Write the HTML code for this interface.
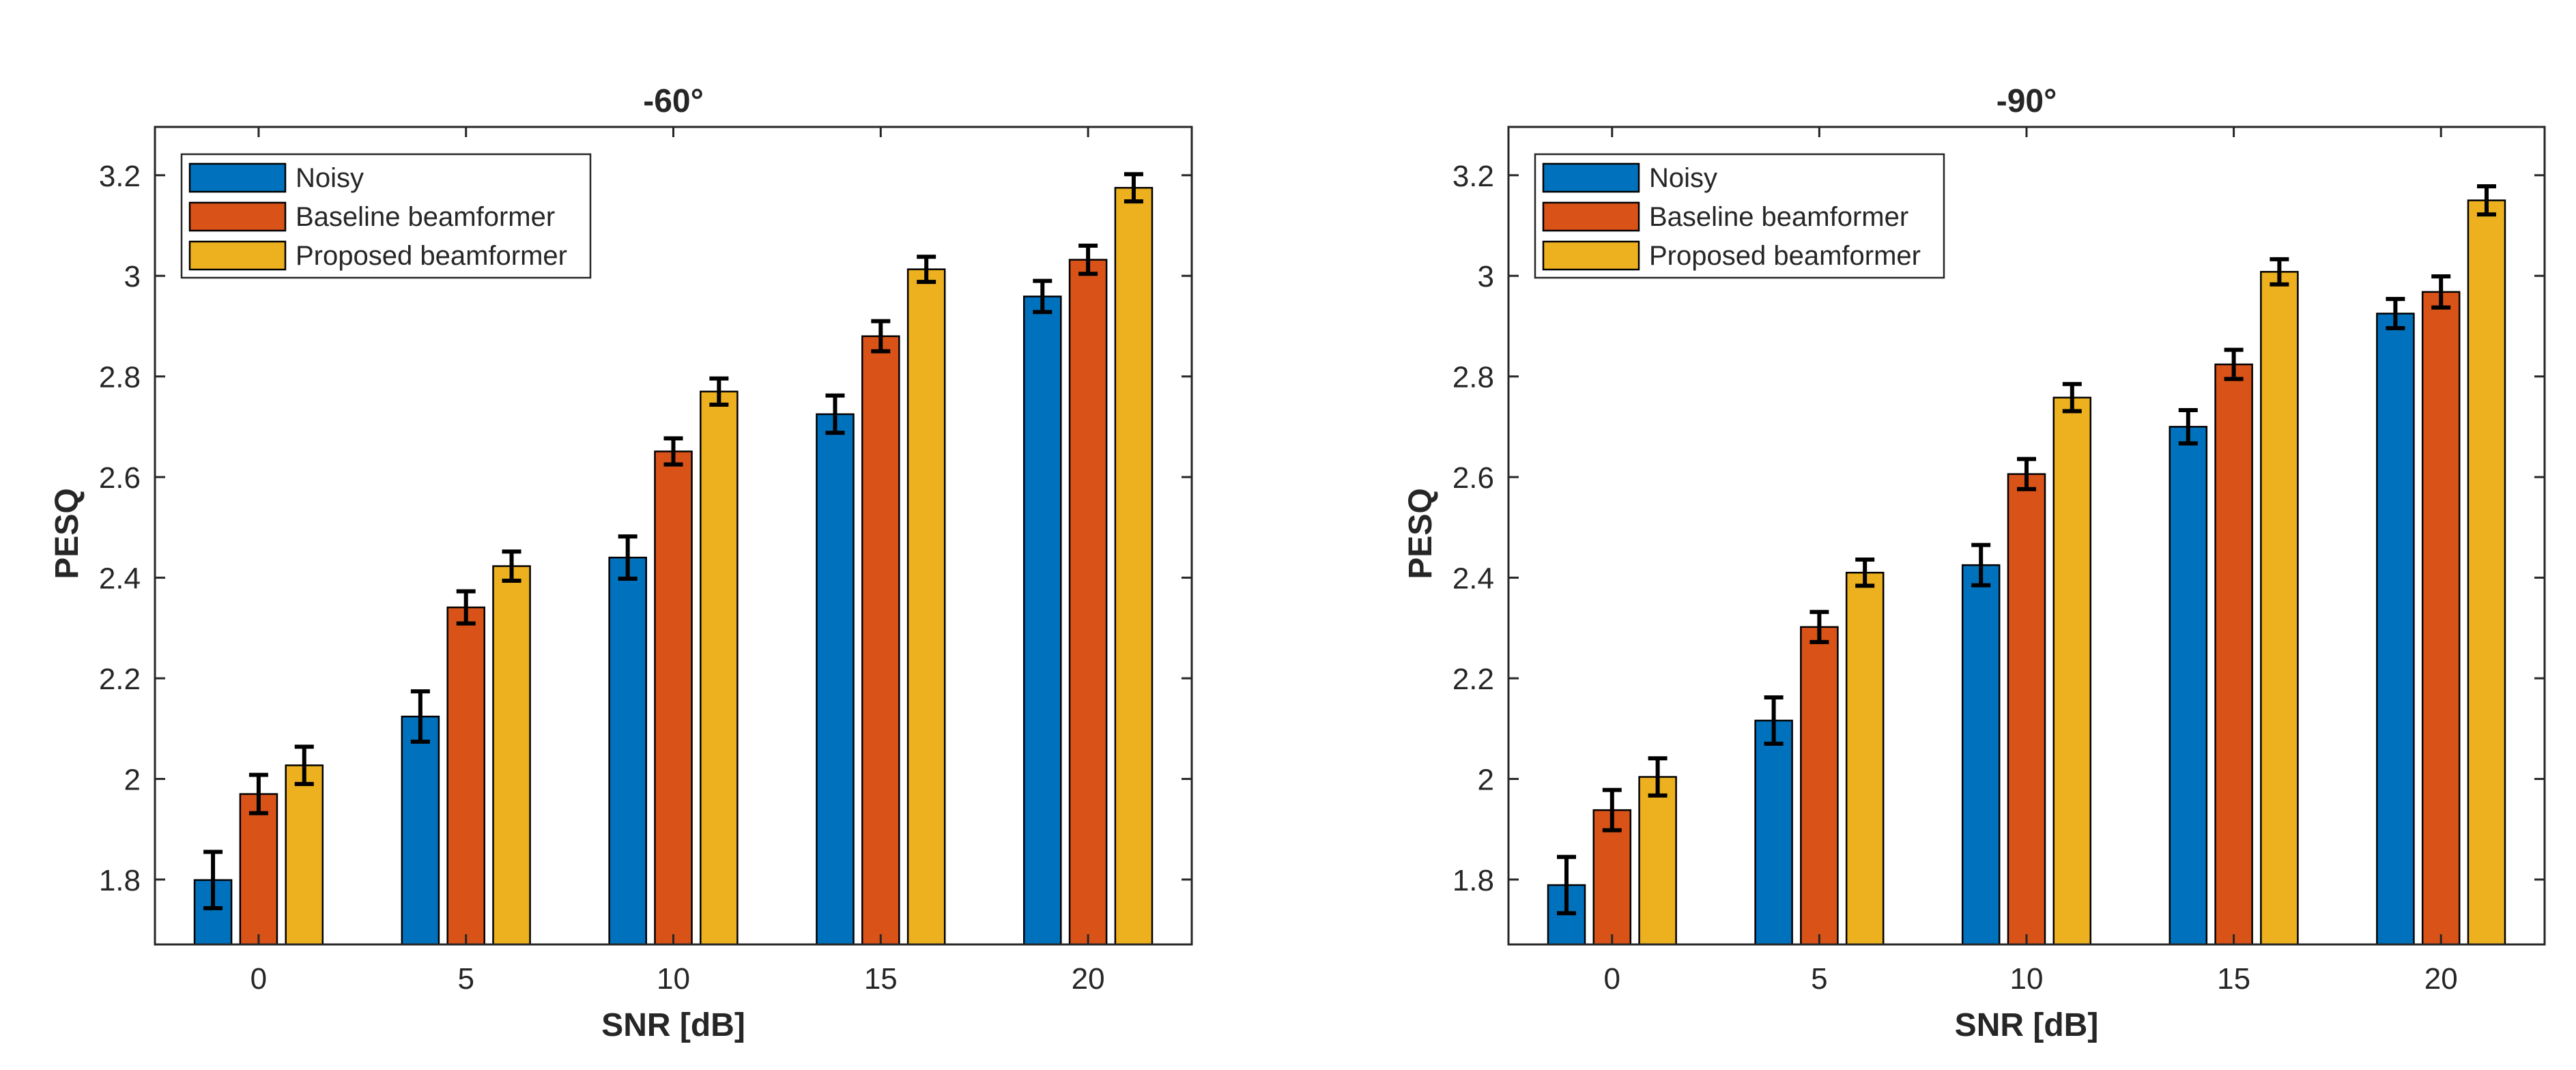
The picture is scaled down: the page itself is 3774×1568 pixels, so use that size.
<!DOCTYPE html>
<html><head><meta charset="utf-8"><style>
html,body{margin:0;padding:0;background:#fff;}
svg{display:block;}
text{font-family:"Liberation Sans",Arial,sans-serif;fill:#262626;}
</style></head><body>
<svg id="chart" width="3774" height="1568" viewBox="0 0 3774 1568" xmlns="http://www.w3.org/2000/svg"></svg>
<script>
const categories = ["0","5","10","15","20"];
const seriesNames = ["Noisy","Baseline beamformer","Proposed beamformer"];
const yTicks = [1.8,2,2.2,2.4,2.6,2.8,3,3.2];
const yTickLabels = ["1.8","2","2.2","2.4","2.6","2.8","3","3.2"];
const titles = ["-60°","-90°"];
// -60 panel
const noisy60 = [1.799,2.124,2.440,2.725,2.959];
const base60 = [1.970,2.341,2.651,2.880,3.032];
const prop60 = [2.027,2.423,2.770,3.013,3.175];
const noisy60Err = [0.056,0.050,0.042,0.037,0.031];
const base60Err = [0.038,0.032,0.026,0.030,0.028];
const prop60Err = [0.037,0.029,0.026,0.025,0.027];
// -90 panel
const noisy90 = [1.789,2.116,2.425,2.700,2.925];
const base90 = [1.938,2.302,2.606,2.824,2.968];
const prop90 = [2.004,2.410,2.758,3.008,3.150];
const noisy90Err = [0.056,0.046,0.040,0.033,0.029];
const base90Err = [0.040,0.030,0.030,0.029,0.031];
const prop90Err = [0.037,0.026,0.027,0.025,0.028];

const colors = ["#0072BD","#D95319","#EDB120"];
const NS = "http://www.w3.org/2000/svg";
const svgRoot = document.getElementById("chart");
function mk(tag, attrs, parent){
  const e = document.createElementNS(NS, tag);
  for (const k in attrs) e.setAttribute(k, attrs[k]);
  (parent||svgRoot).appendChild(e);
  return e;
}
const yMin = 1.671, yMax = 3.296;
const plotTop = 186, plotBottom = 1384;
function yScale(v){ return plotBottom - (v - yMin) / (yMax - yMin) * (plotBottom - plotTop); }

function panel(left, right, idx, vals, errs){
  const g = mk("g", {});
  
  
  const W = right - left;
  const step = W / 5;
  function xScale(i){ return left + (i + 0.5) * step; }
  const off = 0.22 * step, bw = 0.178 * step;
  for (let s = 0; s < 3; s++) {
    for (let i = 0; i < categories.length; i++) {
      const cx = xScale(i) + (s - 1) * off;
      const y = yScale(vals[s][i]);
      const r = mk("rect", {x: cx - bw/2, y: y, width: bw, height: plotBottom - y, fill: colors[s], stroke: "#000", "stroke-width": 2.5}, g);
      
      
    }
  }
  for (let s = 0; s < 3; s++) {
    for (let i = 0; i < categories.length; i++) {
      const cx = xScale(i) + (s - 1) * off;
      const v = vals[s][i], e = errs[s][i];
      const y1 = yScale(v + e), y2 = yScale(v - e);
      const eg = mk("g", {stroke: "#000", "stroke-width": 6, fill: "none"}, g);
      
      
      mk("line", {x1: cx, x2: cx, y1: y1, y2: y2}, eg);
      mk("line", {x1: cx - 14, x2: cx + 14, y1: y1, y2: y1}, eg);
      mk("line", {x1: cx - 14, x2: cx + 14, y1: y2, y2: y2}, eg);
    }
  }
  const box = mk("rect", {x: left, y: plotTop, width: W, height: plotBottom - plotTop, fill: "none", stroke: "#262626", "stroke-width": 3}, g);
  
  
  for (let t = 0; t < yTicks.length; t++) {
    const y = yScale(yTicks[t]);
    mk("line", {x1: left, x2: left + 15, y1: y, y2: y, stroke: "#262626", "stroke-width": 3}, g);
    mk("line", {x1: right, x2: right - 15, y1: y, y2: y, stroke: "#262626", "stroke-width": 3}, g);
    const tx = mk("text", {x: left - 21, y: y + 16, "text-anchor": "end", "font-size": 44}, g);
    tx.textContent = yTickLabels[t];
    
    
  }
  for (let i = 0; i < categories.length; i++) {
    const x = xScale(i);
    mk("line", {x1: x, x2: x, y1: plotBottom, y2: plotBottom - 15, stroke: "#262626", "stroke-width": 3}, g);
    mk("line", {x1: x, x2: x, y1: plotTop, y2: plotTop + 15, stroke: "#262626", "stroke-width": 3}, g);
    const tx = mk("text", {x: x, y: 1449, "text-anchor": "middle", "font-size": 44}, g);
    tx.textContent = categories[i];
    
    
  }
  const cxm = (left + right) / 2;
  const title = mk("text", {x: cxm, y: 164, "text-anchor": "middle", "font-size": 48, "font-weight": "bold"}, g);
  title.textContent = titles[idx];
  
  
  const xl = mk("text", {x: cxm, y: 1518, "text-anchor": "middle", "font-size": 48, "font-weight": "bold"}, g);
  xl.textContent = "SNR [dB]";
  
  
  const ylx = left - 113;
  const yl = mk("text", {x: ylx, y: 782, "text-anchor": "middle", "font-size": 48, "font-weight": "bold", transform: "rotate(-90 " + ylx + " 782)"}, g);
  yl.textContent = "PESQ";
  
  
  const lg = mk("g", {}, g);
  
  
  const lx = left + 39;
  mk("rect", {x: lx, y: 226, width: 599, height: 181, fill: "#fff", stroke: "#262626", "stroke-width": 2.5}, lg);
  for (let s = 0; s < 3; s++) {
    const cy = 260 + s * 57;
    const e = mk("g", {}, lg);
    
    
    mk("rect", {x: lx + 12, y: cy - 20, width: 140, height: 41, fill: colors[s], stroke: "#000", "stroke-width": 2.5}, e);
    const t = mk("text", {x: lx + 167, y: cy + 14, "font-size": 40}, e);
    t.textContent = seriesNames[s];
  }
}
panel(227, 1746, 0, [noisy60, base60, prop60], [noisy60Err, base60Err, prop60Err]);
panel(2210, 3728, 1, [noisy90, base90, prop90], [noisy90Err, base90Err, prop90Err]);
</script>
</body></html>
